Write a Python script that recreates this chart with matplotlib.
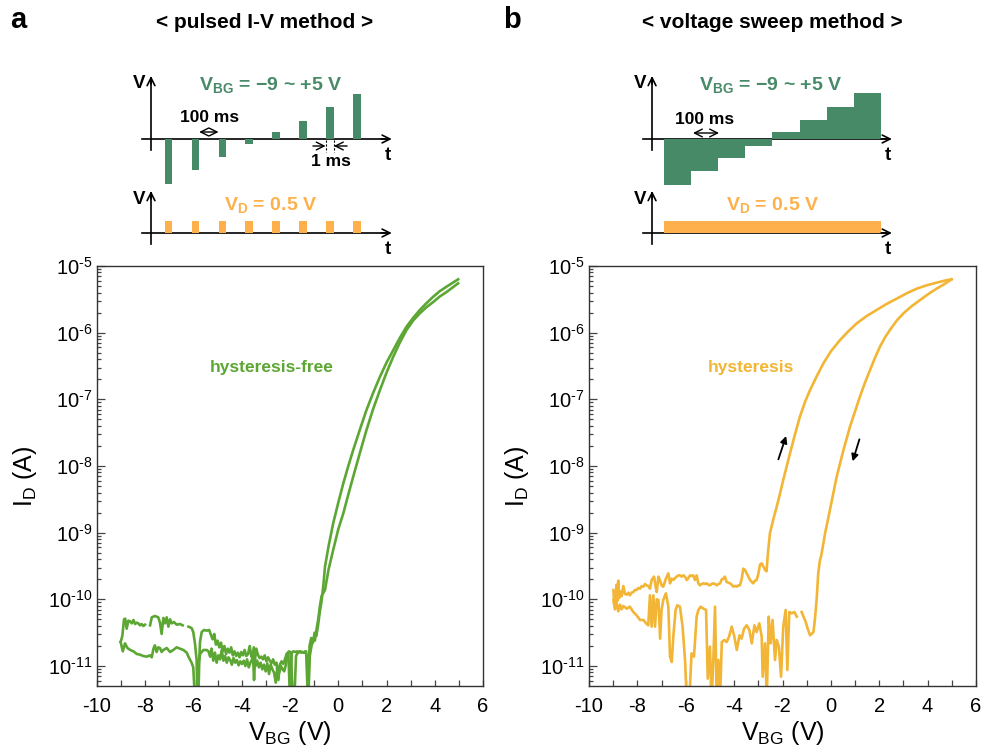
import numpy as np
import matplotlib.pyplot as plt
from matplotlib.ticker import FixedLocator, LogLocator, NullFormatter

plt.rcParams['font.family'] = ['Liberation Sans', 'DejaVu Sans']
plt.rcParams['mathtext.fontset'] = 'custom'
plt.rcParams['mathtext.rm'] = 'Liberation Sans'
plt.rcParams['mathtext.bf'] = 'Liberation Sans:bold'
plt.rcParams['axes.unicode_minus'] = False

# ---- data (V_BG in V, log10 of I_D in A) ----
# panel a, pulsed I-V, two sweeps
green_a_v = [-9.02, -8.95, -8.88, -8.83, -8.77, -8.70, -8.63, -8.56, -8.49, -8.42, -8.35, -8.29,
             -8.22, -8.15, -8.08, -8.01, np.nan, -7.80, -7.73, -7.66, -7.60, -7.53, -7.46, -7.39,
             -7.32, -7.25, -7.18, -7.11, -7.04, -6.97, -6.90, -6.81, -6.70, -6.56, -6.45, np.nan,
             -6.21, -6.08, -6.01, -5.94, -5.87, -5.84, -5.80, -5.76, -5.73, -5.66, -5.56, -5.45,
             -5.35, -5.28, -5.21, -5.14, -5.07, -5.00, -4.93, -4.86, -4.79, -4.72, -4.65, -4.58,
             -4.51, -4.44, -4.37, -4.30, -4.23, -4.16, -4.09, -4.02, -3.95, -3.88, -3.81, -3.74,
             -3.67, -3.60, -3.53, -3.49, -3.45, -3.40, -3.33, -3.26, -3.19, -3.12, -3.05, -2.98,
             -2.91, -2.84, -2.77, -2.70, -2.63, -2.56, -2.48, -2.42, -2.35, -2.28, -2.21, -2.14,
             -2.07, -2.00, -1.93, -1.86, -1.79, -1.72, -1.65, -1.58, -1.51, -1.44, -1.37, -1.30,
             -1.24, -1.18, -1.11, -1.04, -0.97, -0.90, -0.83, -0.76, -0.69, -0.55, -0.40, -0.21,
             0.00, 0.21, 0.40, 0.62, 0.90, 1.17, 1.45, 1.73, 2.00, 2.28, 2.55, 2.83, 3.10, 3.38,
             3.65, 3.94, 4.20, 4.49, 4.75, 4.97]
green_a_log = [-10.64, -10.55, -10.30, -10.29, -10.44, -10.32, -10.33, -10.36, -10.31, -10.37, -10.35, -10.36,
               -10.39, -10.37, -10.40, -10.38, np.nan, -10.39, -10.27, -10.26, -10.25, -10.26, -10.27, -10.35,
               -10.52, -10.28, -10.36, -10.27, -10.41, -10.30, -10.36, -10.34, -10.38, -10.37, -10.39, np.nan,
               -10.41, -10.43, -10.49, -10.66, -10.91, -11.50, -11.50, -10.91, -10.64, -10.49, -10.46, -10.47,
               -10.46, -10.53, -10.60, -10.52, -10.68, -10.62, -10.72, -10.65, -10.78, -10.70, -10.82, -10.74,
               -10.80, -10.72, -10.84, -10.78, -10.85, -10.80, -10.87, -10.79, -10.84, -10.76, -10.85, -10.82,
               -10.70, -10.86, -10.88, -11.21, -10.90, -10.74, -10.83, -10.88, -10.86, -10.90, -10.84, -10.93,
               -10.87, -10.92, -10.96, -10.90, -10.98, -10.95, -11.21, -10.98, -10.93, -10.97, -10.90, -10.82,
               -10.79, -11.50, -10.80, -10.78, -10.79, -10.78, -10.80, -10.78, -10.79, -10.80, -10.78, -10.85,
               -11.50, -10.85, -10.70, -10.60, -10.62, -10.45, -10.30, -10.10, -9.95, -9.86, -9.55, -9.26,
               -8.95, -8.71, -8.45, -8.16, -7.80, -7.46, -7.14, -6.86, -6.60, -6.36, -6.15, -5.96, -5.82, -5.71,
               -5.62, -5.54, -5.46, -5.39, -5.32, -5.26]

green_b_v = [-9.02, -8.93, -8.84, -8.74, -8.62, -8.49, -8.35, -8.22, -8.08, -7.94, -7.80, -7.73,
             -7.66, -7.60, -7.53, -7.46, -7.39, -7.32, -7.25, -7.11, -6.97, -6.84, -6.70, -6.56,
             -6.42, -6.28, -6.21, -6.14, -6.08, -6.01, -5.94, -5.87, -5.80, -5.73, -5.59, -5.45,
             -5.38, -5.31, -5.25, -5.18, -5.11, -5.04, -4.97, -4.90, -4.83, -4.76, -4.69, -4.62,
             -4.55, -4.48, -4.41, -4.34, -4.27, -4.20, -4.13, -4.06, -3.99, -3.92, -3.85, -3.78,
             -3.71, -3.64, -3.57, -3.50, -3.43, -3.36, -3.29, -3.22, -3.15, -3.08, -3.01, -2.94,
             -2.87, -2.80, -2.73, -2.66, -2.59, -2.52, -2.45, -2.38, -2.31, -2.24, -2.17, -2.10,
             -2.03, -1.96, -1.89, -1.82, -1.75, -1.68, -1.61, -1.54, -1.47, -1.40, -1.33, -1.26,
             -1.19, -1.12, -1.05, -0.98, -0.91, -0.84, -0.77, -0.70, -0.62, -0.55, -0.40, -0.21,
             0.00, 0.21, 0.40, 0.62, 0.90, 1.17, 1.45, 1.73, 2.00, 2.28, 2.55, 2.83, 3.10, 3.38,
             3.65, 3.94, 4.20, 4.49, 4.75, 4.97]
green_b_log = [-10.64, -10.78, -10.66, -10.73, -10.76, -10.78, -10.82, -10.83, -10.85, -10.86, -10.84, -10.87,
               -10.74, -10.69, -10.79, -10.72, -10.73, -10.79, -10.76, -10.73, -10.79, -10.76, -10.72, -10.74,
               -10.76, -10.80, -10.86, -10.91, -10.95, -11.02, -11.50, -11.50, -11.00, -10.82, -10.76, -10.76,
               -10.78, -10.86, -10.74, -10.92, -10.80, -10.95, -10.84, -10.90, -10.76, -10.92, -10.85, -10.95,
               -10.87, -10.91, -10.98, -10.88, -10.95, -10.91, -10.99, -10.93, -10.97, -10.92, -11.00, -10.90,
               -11.02, -10.95, -10.90, -10.72, -11.00, -10.92, -11.02, -10.95, -11.05, -10.98, -11.08, -10.96,
               -11.12, -10.98, -11.05, -11.10, -11.25, -11.00, -11.10, -11.00, -11.05, -11.08, -10.98, -10.82,
               -10.78, -10.80, -11.50, -11.50, -10.85, -10.80, -10.78, -10.80, -10.79, -10.80, -10.78, -11.50,
               -10.70, -10.58, -10.65, -10.50, -10.55, -10.40, -10.20, -10.05, -9.80, -9.51, -9.20, -8.86,
               -8.55, -8.26, -8.02, -7.76, -7.45, -7.16, -6.90, -6.66, -6.45, -6.26, -6.08, -5.91, -5.78, -5.66,
               -5.56, -5.46, -5.38, -5.31, -5.25, -5.20]

# panel b, voltage sweep: forward (-9 -> +5) and reverse (+5 -> -9)
fwd_v = [-8.99, -8.96, -8.93, -8.89, -8.86, -8.82, -8.79, -8.75, -8.72, -8.65, -8.58, -8.51, -8.44,
         -8.37, -8.31, -8.24, -8.17, -8.10, -8.03, -7.96, -7.89, -7.82, -7.75, -7.68, -7.62, -7.55,
         -7.48, -7.41, -7.31, -7.25, -7.20, -7.13, -7.06, -7.00, -6.93, -6.82, -6.72, -6.65, -6.58,
         -6.51, -6.44, -6.38, -6.30, -6.24, -6.17, -6.10, -6.03, -5.96, -5.89, -5.82, -5.75, -5.69,
         -5.62, -5.55, -5.48, -5.41, -5.34, -5.27, -5.20, -5.14, -5.07, -5.00, -4.93, -4.86, -4.79,
         -4.72, -4.65, -4.58, -4.51, -4.45, -4.38, -4.31, -4.24, -4.17, -4.10, -4.03, -3.96, -3.89,
         -3.82, -3.76, -3.69, -3.62, -3.55, -3.48, -3.41, -3.34, -3.27, -3.21, -3.14, -3.07, -3.00,
         -2.93, -2.86, -2.79, -2.72, -2.66, -2.60, -2.52, -2.38, -2.24, -2.10, -1.97, -1.83, -1.69,
         -1.48, -1.28, -1.07, -0.86, -0.58, -0.31, 0.00, 0.38, 0.72, 1.07, 1.48, 1.89, 2.30, 2.72,
         3.13, 3.55, 3.96, 4.37, 4.70, 4.99]
fwd_log = [-9.86, -10.05, -9.90, -10.10, -9.78, -10.02, -9.72, -9.98, -9.88, -9.95, -9.80, -9.92, -9.93,
           -9.90, -9.94, -9.90, -9.89, -9.86, -9.86, -9.83, -9.84, -9.80, -9.81, -9.77, -9.79, -9.80,
           -9.84, -9.71, -9.66, -9.80, -9.89, -9.66, -9.72, -9.79, -9.81, -9.69, -9.61, -9.76, -9.69,
           -9.71, -9.68, -9.66, -9.64, -9.64, -9.66, -9.64, -9.66, -9.71, -9.68, -9.64, -9.65, -9.64,
           -9.71, -9.64, -9.76, -9.79, -9.77, -9.76, -9.77, -9.76, -9.78, -9.79, -9.77, -9.76, -9.77,
           -9.79, -9.77, -9.76, -9.70, -9.69, -9.66, -9.74, -9.75, -9.76, -9.78, -9.81, -9.80, -9.81,
           -9.79, -9.79, -9.70, -9.54, -9.56, -9.61, -9.66, -9.71, -9.74, -9.76, -9.72, -9.71, -9.62,
           -9.48, -9.46, -9.51, -9.56, -9.58, -9.30, -9.01, -8.80, -8.61, -8.41, -8.21, -8.01, -7.81,
           -7.52, -7.26, -7.04, -6.86, -6.65, -6.46, -6.28, -6.11, -5.98, -5.86, -5.75, -5.66, -5.57, -5.49,
           -5.41, -5.34, -5.29, -5.25, -5.22, -5.20]

rev_v = [4.99, 4.70, 4.37, 4.03, 3.69, 3.35, 3.00, 2.72, 2.44, 2.24, 2.03, 1.82, 1.62, 1.41, 1.20,
         1.00, 0.79, 0.52, 0.24, -0.04, -0.24, -0.40, -0.45, -0.52, -0.59, -0.66, -0.72, -0.80,
         -0.86, -0.95, -1.05, -1.21, np.nan, -1.41, -1.51, -1.62, -1.72, -1.80, -1.87, -1.97, -2.06,
         -2.15, -2.24, -2.31, -2.41, -2.49, -2.57, -2.65, -2.72, -2.82, -2.86, -2.96, -3.07, -3.16,
         -3.27, -3.37, -3.48, -3.59, -3.69, -3.78, -3.89, -3.99, -4.10, -4.21, -4.31, -4.40, -4.51,
         -4.58, -4.65, -4.72, -4.79, -4.86, -4.93, -5.00, -5.09, -5.16, -5.27, -5.38, -5.48, -5.55,
         -5.66, -5.76, -5.85, -5.96, -6.03, -6.13, -6.24, -6.35, -6.42, -6.51, -6.58, -6.65, -6.72,
         -6.82, -6.93, -7.00, -7.06, -7.13, -7.20, -7.27, -7.34, -7.41, -7.48, -7.55, -7.64, -7.75,
         -7.89, -8.03, -8.17, -8.31, -8.44, -8.58, -8.65, -8.72, -8.79, -8.86, -8.93, -8.99]
rev_log = [-5.20, -5.27, -5.34, -5.42, -5.51, -5.60, -5.71, -5.82, -5.96, -6.07, -6.21, -6.38, -6.56,
           -6.75, -6.96, -7.18, -7.41, -7.76, -8.16, -8.66, -9.01, -9.35, -9.41, -9.60, -10.01, -10.30,
           -10.49, -10.52, -10.54, -10.45, -10.33, -10.19, np.nan, -10.26, -10.19, -10.21, -10.19, -11.06,
           -10.16, -10.41, -11.16, -10.71, -10.61, -10.91, -10.31, -10.66, -10.26, -11.50, -10.66, -11.16,
           -10.56, -10.36, -10.49, -10.39, -10.66, -10.46, -10.39, -10.44, -10.59, -10.54, -10.76, -10.56,
           -10.41, -10.56, -10.64, -10.61, -10.64, -11.50, -10.91, -11.50, -10.11, -10.91, -11.50, -10.71,
           -11.19, -10.16, -10.14, -10.11, -10.16, -10.26, -10.86, -10.81, -11.50, -11.50, -10.91, -10.41,
           -10.11, -10.09, -10.16, -10.54, -10.94, -10.86, -10.11, -9.91, -10.01, -10.16, -10.59, -10.01,
           -10.00, -10.41, -9.94, -10.41, -9.94, -10.39, -10.36, -10.31, -10.31, -10.24, -10.19, -10.11,
           -10.14, -10.10, -10.15, -10.08, -10.18, -10.05, -10.15, -10.01]

# schematic waveforms (drawing units)
pulse_idx = [0, 1, 2, 3, 4, 5, 6, 7]
vbg_pulse = [-45, -31, -18, -5, 7, 18, 32, 45]
vd_pulse = [12, 12, 12, 12, 12, 12, 12, 12]
step_edges = [0, 1, 2, 3, 4, 5, 6, 7, 8]
vbg_steps = [-46, -32, -19, -7, 7, 19, 32, 46]
vd_const = 12

c_bar = '#478A68'
c_vd = '#FDB04B'
c_green = '#5CA733'
c_orange = '#F2B535'
VD_BASE = -94

fig = plt.figure(figsize=(9.81, 7.53), dpi=100)
W, H = 981, 753


def px_axes(x0, y0, x1, y1):
    return fig.add_axes([x0 / W, 1 - y1 / H, (x1 - x0) / W, (y1 - y0) / H])


def arrow(ax, x0, y0, x1, y1, style='->', lw=1.2):
    ax.annotate('', xy=(x1, y1), xytext=(x0, y0),
                arrowprops=dict(arrowstyle=style, lw=lw, color='black',
                                shrinkA=0, shrinkB=0, mutation_scale=14))


def axes_frame(ax, xv, xt0, xt1):
    # V_BG row and V_D row axes
    for base, top in [(0, 63), (VD_BASE, VD_BASE + 42)]:
        ax.plot([xv, xv], [base - 11, top - 2], color='black', lw=1.2)
        arrow(ax, xv, top - 8, xv, top)
        ax.plot([xt0, xt1 - 0.2], [base, base], color='black', lw=1.2)
        arrow(ax, xt1 - 0.4, base, xt1, base)
        ax.text(xv - 0.45, top - 8, 'V', fontsize=13.5, fontweight='bold', ha='center', va='center')
        ax.text(xt1 - 0.15, base - 16, 't', fontsize=13.5, fontweight='bold', ha='center', va='center')


# ---- schematic a ----
sa = px_axes(120, 60, 400, 260)
sa.set_xlim((120 - 168.5) / 26.9, (400 - 168.5) / 26.9)
sa.set_ylim(-121, 79)
sa.axis('off')
sa.bar(pulse_idx, vbg_pulse, width=0.28, color=c_bar, zorder=3)
sa.bar(pulse_idx, vd_pulse, width=0.28, bottom=VD_BASE, color=c_vd, zorder=3)
axes_frame(sa, -0.65, -0.99, 8.3)
sa.text(3.81, 54, r'$\mathbf{V_{BG}}$ = −9 ~ +5 V', color=c_bar, fontsize=14,
        fontweight='bold', ha='center', va='center')
sa.text(3.81, VD_BASE + 28, r'$\mathbf{V_{D}}$ = 0.5 V', color=c_vd, fontsize=14,
        fontweight='bold', ha='center', va='center')
sa.text(1.51, 22, '100 ms', fontsize=12.5, fontweight='bold', ha='center', va='center')
arrow(sa, 1.14, 7, 1.86, 7, style='<->', lw=1.0)
sa.text(6.04, -23, '1 ms', fontsize=12.5, fontweight='bold', ha='center', va='center')
arrow(sa, 5.37, -7, 5.84, -7, lw=1.0)
arrow(sa, 6.64, -7, 6.15, -7, lw=1.0)
for xd in (5.86, 6.14):
    sa.plot([xd, xd], [-1, -13], color='black', lw=0.8, ls=(0, (2, 1.5)))

# ---- schematic b ----
sb = px_axes(620, 60, 900, 260)
sb.set_xlim((620 - 664) / 27.1, (900 - 664) / 27.1)
sb.set_ylim(-121, 79)
sb.axis('off')
sb.stairs(vbg_steps, step_edges, baseline=0, fill=True, color=c_bar, zorder=3)
sb.fill_between([step_edges[0], step_edges[-1]], VD_BASE, VD_BASE + vd_const,
                color=c_vd, lw=0, zorder=3)
axes_frame(sb, -0.44, -0.77, 8.41)
sb.text(3.95, 54, r'$\mathbf{V_{BG}}$ = −9 ~ +5 V', color=c_bar, fontsize=14,
        fontweight='bold', ha='center', va='center')
sb.text(3.99, VD_BASE + 28, r'$\mathbf{V_{D}}$ = 0.5 V', color=c_vd, fontsize=14,
        fontweight='bold', ha='center', va='center')
sb.text(1.51, 19, '100 ms', fontsize=12.5, fontweight='bold', ha='center', va='center')
arrow(sb, 1.07, 6, 2.03, 6, style='<->', lw=1.0)

# ---- transfer curves ----
ax1 = px_axes(97, 266, 483, 686)
ax2 = px_axes(589, 266, 976, 686)

ax1.plot(green_a_v, 10 ** np.array(green_a_log), color=c_green, lw=1.9)
ax1.plot(green_b_v, 10 ** np.array(green_b_log), color=c_green, lw=1.9)
ax2.plot(fwd_v, 10 ** np.array(fwd_log), color=c_orange, lw=1.9)
ax2.plot(rev_v, 10 ** np.array(rev_log), color=c_orange, lw=1.9)

ax1.text(-2.76, 10 ** -6.53, 'hysteresis-free', color=c_green, fontsize=12.5,
         fontweight='bold', ha='center', va='center')
ax2.text(-3.32, 10 ** -6.53, 'hysteresis', color=c_orange, fontsize=12.5,
         fontweight='bold', ha='center', va='center')
ax2.annotate('', xy=(-1.85, 10 ** -7.55), xytext=(-2.17, 10 ** -7.9),
             arrowprops=dict(arrowstyle='-|>', lw=1.3, color='black', mutation_scale=10,
                             shrinkA=0, shrinkB=0))
ax2.annotate('', xy=(0.90, 10 ** -7.93), xytext=(1.18, 10 ** -7.6),
             arrowprops=dict(arrowstyle='-|>', lw=1.3, color='black', mutation_scale=10,
                             shrinkA=0, shrinkB=0))

for ax in (ax1, ax2):
    ax.set_yscale('log')
    ax.set_xlim(-10, 6)
    ax.set_ylim(10 ** -11.3, 1e-5)
    ax.xaxis.set_major_locator(FixedLocator(range(-10, 7, 2)))
    ax.xaxis.set_minor_locator(FixedLocator(range(-9, 6, 2)))
    ax.yaxis.set_minor_locator(LogLocator(base=10, subs=np.arange(2, 10), numticks=20))
    ax.yaxis.set_minor_formatter(NullFormatter())
    ax.set_yticks([10.0 ** k for k in range(-11, -4)])
    ax.set_yticklabels([r'$\mathregular{10^{\text{-}%d}}$' % -k for k in range(-11, -4)])
    ax.tick_params(which='both', direction='in', top=False, right=False, labelsize=14.5,
                   width=0.9, color='#444444')
    ax.tick_params(axis='y', which='major', length=6)
    ax.tick_params(axis='y', which='minor', length=3)
    ax.tick_params(axis='x', which='both', length=4)
    ax.tick_params(axis='x', pad=8)
    for s in ax.spines.values():
        s.set_linewidth(1.0)
        s.set_color('#333333')
    ax.set_xlabel(r'$\mathregular{V_{BG}}$ (V)', fontsize=18, labelpad=2)
    ax.set_ylabel(r'$\mathregular{I_{D}}$ (A)', fontsize=18, labelpad=6)

fig.text(18 / W, 1 - 20 / H, 'a', fontsize=21, fontweight='bold', ha='center', va='center')
fig.text(512 / W, 1 - 20 / H, 'b', fontsize=21, fontweight='bold', ha='center', va='center')
fig.text(265 / W, 1 - 22 / H, '< pulsed I-V method >', fontsize=15, fontweight='bold',
         ha='center', va='center')
fig.text(772 / W, 1 - 22 / H, '< voltage sweep method >', fontsize=15, fontweight='bold',
         ha='center', va='center')

fig.savefig('out.png', dpi=100)
